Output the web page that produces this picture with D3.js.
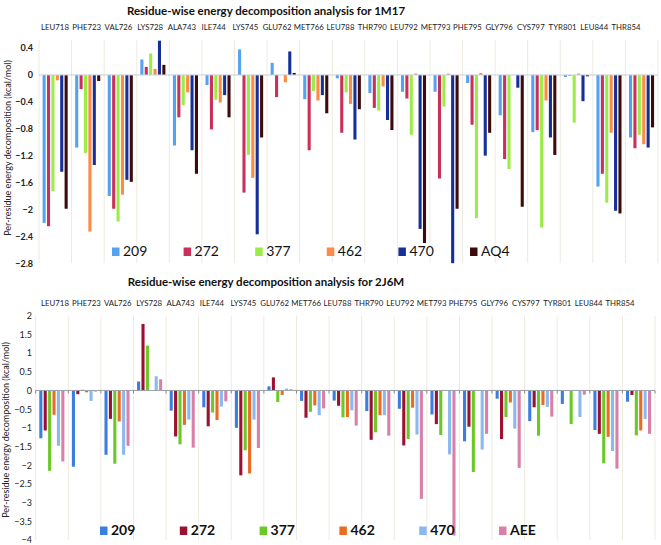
<!DOCTYPE html>
<html><head><meta charset="utf-8">
<script src="https://cdn.jsdelivr.net/npm/d3@7"></script>
<style>body{margin:0;background:#fff}svg{display:block}text{font-family:Lato,"Open Sans",sans-serif}</style>
</head><body>
<svg id="c" width="661" height="545"></svg>
<script>
const categories = ["LEU718","PHE723","VAL726","LYS728","ALA743","ILE744","LYS745","GLU762","MET766","LEU788","THR790","LEU792","MET793","PHE795","GLY796","CYS797","TYR801","LEU844","THR854"];

// Panel 1 (1M17)
const seriesTop = ["209","272","377","462","470","AQ4"];
const top209 = [-2.20,-1.08,-1.80,0.23,-1.05,-0.15,0.38,0.18,-0.36,-0.05,-0.27,-0.25,-0.25,-0.12,-0.60,-0.85,-0.03,-1.66,-0.93];
const top272 = [-2.25,-0.21,-1.99,0.12,-0.63,-0.81,-1.75,-0.33,-1.12,-0.86,-0.49,-0.35,-1.54,-0.74,-1.25,-0.82,-0.01,-1.47,-1.09];
const top377 = [-1.73,-1.16,-2.18,0.32,-0.45,-0.37,-1.19,0.00,-0.24,-0.26,-0.53,-0.89,-0.47,-2.13,-1.40,-2.27,-0.71,-1.90,-0.89];
const top462 = [-0.08,-2.33,-1.78,0.09,-0.26,-0.41,-1.53,-0.11,-0.38,-0.43,-0.17,0.02,0.02,0.03,0.00,-0.38,0.02,-0.86,-1.03];
const top470 = [-1.44,-1.34,-1.56,0.51,-1.12,-0.30,-2.37,0.35,-0.30,-0.96,-0.67,-2.29,-2.80,-1.20,-0.19,-0.93,-0.39,-2.02,-1.08];
const topAQ4 = [-1.99,-0.09,-1.59,0.15,-1.47,-0.63,-0.93,0.03,-0.57,-0.51,-0.82,-2.50,-1.99,-0.86,-1.96,-1.19,-0.02,-2.06,-0.78];
const topTicks = [0.4,0,-0.4,-0.8,-1.2,-1.6,-2,-2.4,-2.8];

// Panel 2 (2J6M)
const seriesBot = ["209","272","377","462","470","AEE"];
const bot209 = [-1.28,-2.04,-1.72,0.24,-0.54,-0.45,-1.00,0.11,-0.28,-0.27,-0.55,-0.49,-0.64,-1.36,-0.22,-0.82,-0.36,-1.06,-0.30];
const bot272 = [-1.07,-0.10,-0.76,1.78,-1.23,-0.96,-2.27,0.35,-0.73,-0.41,-1.32,-1.47,-0.90,-0.97,-1.30,-0.45,-0.01,-1.16,-0.12];
const bot377 = [-2.15,0.02,-1.96,1.20,-1.44,-0.59,-1.60,-0.31,-0.57,-0.72,-1.12,-1.30,-1.19,-2.18,-0.71,-1.21,-0.90,-1.95,-1.20];
const bot462 = [-0.65,-0.05,-0.83,0.01,-0.92,-0.79,-2.22,-0.12,-0.40,-0.71,-0.66,-0.46,-0.01,0.00,-0.32,-0.39,0.01,-1.24,-1.07];
const bot470 = [-1.48,-0.28,-1.72,0.38,-0.78,-0.43,-0.78,0.05,-0.66,-0.53,-0.66,-1.18,-1.71,-1.58,-1.02,-0.44,-0.71,-1.62,-0.76];
const botAEE = [-1.90,-0.03,-1.48,0.30,-1.53,-0.29,-1.54,0.03,-0.48,-0.94,-1.21,-2.90,-3.88,-1.16,-2.07,-0.70,-0.11,-2.09,-1.16];
const botTicks = [2,1.5,1,0.5,0,-0.5,-1,-1.5,-2,-2.5,-3,-3.5,-4];

const svg = d3.select("#c");

function panel(cfg){
  const g = svg.append("g");
  const x = d3.scaleBand().domain(categories).range(cfg.xr).padding(0);
  const xs = d3.scaleBand().domain(cfg.series).range([x.bandwidth()*0.11, x.bandwidth()*0.88]).paddingInner(0.3);
  const y = d3.scaleLinear().domain(cfg.yd).range(cfg.yr);
  const bounds = categories.map(c=>x(c)).concat([cfg.xr[1]]);
  g.selectAll("line.v").data(bounds).join("line")
    .attr("x1",d=>d).attr("x2",d=>d).attr("y1",y(cfg.yd[1])).attr("y2",y(cfg.yd[0]))
    .attr("stroke","#eeeadf").attr("stroke-width",1);
  const ya = d3.axisLeft(y).tickValues(cfg.ticks).tickSize(0).tickPadding(0).tickFormat(d3.format("~g"));
  const ag = g.append("g").attr("transform",`translate(${cfg.tickX},0)`).call(ya);
  ag.select(".domain").remove();
  ag.selectAll("text").attr("font-size",cfg.tickFs).attr("font-weight",cfg.tickFw).attr("fill","#222")
    .attr("font-family","Lato, 'Open Sans', sans-serif");
  cfg.series.forEach((s,i)=>{
    const vals = cfg.values[i];
    g.selectAll(null).data(categories).join("rect")
      .attr("x",c=>x(c)+xs(s)).attr("width",xs.bandwidth())
      .attr("y",(c,k)=>Math.min(y(0),y(vals[k])))
      .attr("height",(c,k)=>Math.abs(y(vals[k])-y(0)))
      .attr("fill",cfg.colors[i]);
  });
  g.append("line").attr("x1",cfg.xr[0]).attr("x2",cfg.xr[1]).attr("y1",y(0)).attr("y2",y(0))
    .attr("stroke",cfg.zeroColor).attr("stroke-width",1);
  if(cfg.zeroTicks){
    g.selectAll("line.zt").data(bounds).join("line")
      .attr("x1",d=>d).attr("x2",d=>d).attr("y1",y(0)).attr("y2",y(0)+3)
      .attr("stroke","#888");
  }
  const lx = d3.scalePoint().domain(categories).range(cfg.labelRange);
  g.selectAll("text.cat").data(categories).join("text")
    .attr("x",c=>lx(c)).attr("y",cfg.labelY).attr("text-anchor","middle")
    .attr("font-size",7.8).attr("fill","#222").text(c=>c);
  g.append("text").attr("x",266).attr("y",cfg.titleY).attr("text-anchor","middle")
    .attr("font-size",11.5).attr("font-weight","bold").attr("fill","#111").text(cfg.title);
  g.append("text").attr("transform",`translate(${cfg.ylabX},${cfg.ylabY}) rotate(-90)`)
    .attr("text-anchor","middle").attr("font-size",9).attr("fill","#222")
    .text("Per-residue energy decomposition (kcal/mol)");
  const lg = d3.scalePoint().domain(cfg.series).range(cfg.legRange);
  cfg.series.forEach((s,i)=>{
    g.append("rect").attr("x",lg(s)).attr("y",cfg.legY-8.5).attr("width",7.5).attr("height",8.5).attr("fill",cfg.colors[i]);
    g.append("text").attr("x",lg(s)+11).attr("y",cfg.legY).attr("font-size",cfg.legFs)
      .attr("font-weight",cfg.legFw).attr("fill","#111").text(s);
  });
}

panel({
  series: seriesTop,
  values: [top209,top272,top377,top462,top470,topAQ4],
  colors: ["#55a2f2","#c9305a","#9cec48","#fd8a45","#16309a","#3e0b0d"],
  xr: [39,658], yd: [-2.8,0.52], yr: [263.2,40],
  ticks: topTicks, tickX: 33, tickFs: 9, tickFw: "bold",
  zeroColor: "#c3cedb", zeroTicks: false,
  labelRange: [55,626], labelY: 30,
  title: "Residue-wise energy decomposition analysis for 1M17", titleY: 15,
  ylabX: 11, ylabY: 148,
  legRange: [112,470], legY: 256, legFs: 14, legFw: "normal"
});

panel({
  series: seriesBot,
  values: [bot209,bot272,bot377,bot462,bot470,botAEE],
  colors: ["#3b7ee2","#9c1030","#6bc826","#ec6a22","#8cb8f2","#d980a8"],
  xr: [35.7,655], yd: [-4,2], yr: [540,315.7],
  ticks: botTicks, tickX: 32, tickFs: 9, tickFw: "normal",
  zeroColor: "#9aa0a8", zeroTicks: true,
  labelRange: [55,620], labelY: 306,
  title: "Residue-wise energy decomposition analysis for 2J6M", titleY: 286,
  ylabX: 9, ylabY: 430,
  legRange: [100,499], legY: 535, legFs: 14, legFw: "bold"
});
</script>
</body></html>
